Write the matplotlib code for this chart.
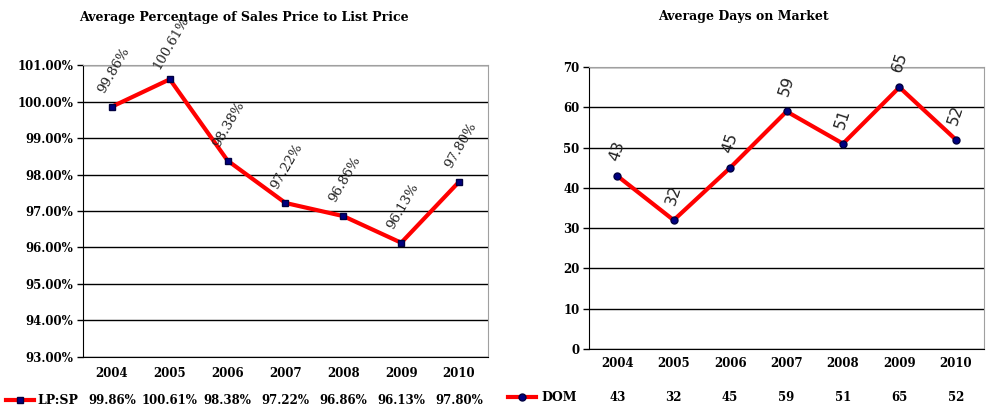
import matplotlib
matplotlib.use("Agg")
import matplotlib.pyplot as plt
from matplotlib.lines import Line2D

years = ["2004", "2005", "2006", "2007", "2008", "2009", "2010"]
lpsp = [99.86, 100.61, 98.38, 97.22, 96.86, 96.13, 97.80]
dom = [43, 32, 45, 59, 51, 65, 52]
lpsp_yticks = [93, 94, 95, 96, 97, 98, 99, 100, 101]
dom_yticks = [0, 10, 20, 30, 40, 50, 60, 70]

serif = ["DejaVu Serif"]
fig = plt.figure(figsize=(9.93, 4.17), dpi=100)

def style(ax, ylim, yticks, fmt, xpad):
    ax.set_xlim(-0.5, len(years) - 0.5)
    ax.set_ylim(*ylim)
    ax.set_yticks(yticks)
    ax.set_yticklabels([fmt(v) for v in yticks], family=serif, fontweight="bold", fontsize=8.5)
    ax.set_xticks(range(len(years)))
    ax.set_xticklabels(years, family=serif, fontweight="bold", fontsize=8.5)
    ax.tick_params(axis="x", length=0, pad=xpad)
    ax.tick_params(axis="y", length=4, width=1, direction="out", pad=3)
    for v in yticks:
        ax.axhline(v, color="black", lw=1, zorder=1)
    ax.spines["left"].set_color("black")
    ax.spines["bottom"].set_color("black")
    ax.spines["top"].set_color("#a0a0a0")
    ax.spines["right"].set_color("#a0a0a0")

x = list(range(len(years)))

# Left chart
ax1 = fig.add_axes([0.0836, 0.144, 0.4078, 0.700])
style(ax1, (93, 101), lpsp_yticks, lambda v: f"{v:.2f}%", 7)
ax1.plot(x, lpsp, color="#ff0000", lw=3, marker="s", ms=5, mfc="#000080", mec="#000040", zorder=3)
for i, v in enumerate(lpsp):
    ax1.annotate(f"{v:.2f}%", (i, v), xytext=(1, 26.5), textcoords="offset points",
                 rotation=60, rotation_mode="anchor", ha="center", va="center",
                 family=serif, fontsize=9.5, color="#222222", clip_on=False)
fig.text(0.246, 0.958, "Average Percentage of Sales Price to List Price", ha="center", va="center",
         family=serif, fontweight="bold", fontsize=9)

# Right chart
ax2 = fig.add_axes([0.5932, 0.163, 0.3978, 0.676])
style(ax2, (0, 70), dom_yticks, lambda v: f"{v}", 6)
ax2.plot(x, dom, color="#ff0000", lw=3, marker="o", ms=5, mfc="#000080", mec="#000040", zorder=3)
for i, v in enumerate(dom):
    ax2.annotate(f"{v}", (i, v), xytext=(0, 18), textcoords="offset points",
                 rotation=72, rotation_mode="anchor", ha="center", va="center",
                 fontsize=11.5, color="#222222", clip_on=False)
fig.text(0.749, 0.96, "Average Days on Market", ha="center", va="center",
         family=serif, fontweight="bold", fontsize=9)

# Data tables
def table(ax, y_fig, name, vals, marker, name_x, line_x):
    trans = matplotlib.transforms.blended_transform_factory(ax.transData, fig.transFigure)
    for i, v in enumerate(vals):
        fig.text(i, y_fig, v, transform=trans, ha="center", va="center",
                 family=serif, fontweight="bold", fontsize=8.5)
    ln = Line2D(line_x, [y_fig, y_fig], transform=fig.transFigure, color="#ff0000", lw=3)
    fig.add_artist(ln)
    mk = Line2D([sum(line_x) / 2], [y_fig], transform=fig.transFigure, marker=marker, ms=5,
                mfc="#000080", mec="#000040", lw=0)
    fig.add_artist(mk)
    fig.text(name_x, y_fig, name, ha="left", va="center", family=serif, fontweight="bold", fontsize=9)

table(ax1, 0.04, "LP:SP", [f"{v:.2f}%" for v in lpsp], "s", 0.038, [0.006, 0.034])
table(ax2, 0.047, "DOM", [f"{v}" for v in dom], "o", 0.545, [0.512, 0.540])

fig.savefig("out.png", dpi=100)
